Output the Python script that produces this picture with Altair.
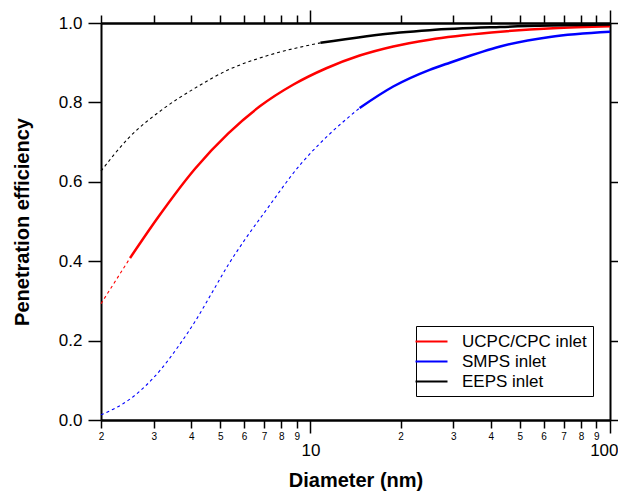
import altair as alt
import pandas as pd

series_names = ["UCPC/CPC inlet", "SMPS inlet", "EEPS inlet"]
series_colors = ["#ff0000", "#0000ff", "#000000"]

# UCPC/CPC inlet (red)
ucpc_dash_d = [2.0, 2.5]
ucpc_dash_p = [0.293, 0.408]
ucpc_solid_d = [2.5, 3.11, 4.12, 5.32, 6.78, 8.78, 11.3, 14.6, 18.9, 25.0, 40.2, 64.6, 100.0]
ucpc_solid_p = [0.408, 0.512, 0.633, 0.722, 0.790, 0.845, 0.886, 0.918, 0.941, 0.958, 0.976, 0.987, 0.992]

# SMPS inlet (blue)
smps_dash_d = [2.0, 2.47, 2.80, 3.19, 3.62, 4.12, 4.68, 5.32, 6.04, 7.06, 9.34, 10.77, 14.6]
smps_dash_p = [0.013, 0.050, 0.084, 0.130, 0.185, 0.248, 0.319, 0.391, 0.454, 0.525, 0.647, 0.697, 0.786]
smps_solid_d = [14.6, 18.9, 25.0, 29.2, 43.0, 63.0, 100.0]
smps_solid_p = [0.786, 0.840, 0.882, 0.900, 0.941, 0.965, 0.978]

# EEPS inlet (black)
eeps_dash_d = [2.0, 2.47, 3.19, 4.12, 5.32, 7.06, 10.8]
eeps_dash_p = [0.627, 0.710, 0.781, 0.836, 0.882, 0.916, 0.950]
eeps_solid_d = [10.8, 19.9, 25.0, 43.0, 100.0]
eeps_solid_p = [0.950, 0.976, 0.982, 0.990, 0.996]

minor_ticks = [2, 3, 4, 5, 6, 7, 8, 9, 20, 30, 40, 50, 60, 70, 80, 90]
major_ticks = [10, 100]
y_ticks = [0.0, 0.2, 0.4, 0.6, 0.8, 1.0]

rows = []
for name, parts in [
    (series_names[0], [("dash", ucpc_dash_d, ucpc_dash_p), ("solid", ucpc_solid_d, ucpc_solid_p)]),
    (series_names[1], [("dash", smps_dash_d, smps_dash_p), ("solid", smps_solid_d, smps_solid_p)]),
    (series_names[2], [("dash", eeps_dash_d, eeps_dash_p), ("solid", eeps_solid_d, eeps_solid_p)]),
]:
    for part, ds, ps in parts:
        for i, (d, p) in enumerate(zip(ds, ps)):
            rows.append({"d": d, "p": p, "series": name, "part": part, "i": i})
df = pd.DataFrame(rows)

FONT = "Liberation Sans"
common = dict(domainColor="black", domainWidth=2, tickColor="black", tickWidth=1.5,
              grid=False, labelFont=FONT, labelColor="black", titleFont=FONT,
              titleColor="black", labelOverlap=False, labelBound=False)

xscale = alt.Scale(type="log", domain=[2, 100], nice=False)
yscale = alt.Scale(domain=[0, 1], nice=False, zero=False)
cscale = alt.Scale(domain=series_names, range=series_colors)

x_bottom_major = alt.Axis(orient="bottom", values=major_ticks, tickSize=13, labelFontSize=17,
                          labelPadding=9, format="d", labelFlush=True, labelFlushOffset=8,
                          title="Diameter (nm)", titleFontSize=20,
                          titleFontWeight="bold", titleX=254.5, titleY=66,
                          titleBaseline="alphabetic", titleAlign="center", **common)
x_bottom_minor = alt.Axis(orient="bottom", values=minor_ticks, tickSize=8, labelFontSize=10,
                          labelPadding=3, labelFlush=False,
                          labelExpr="'' + (datum.value < 10 ? datum.value : datum.value / 10)",
                          title=None, **common)
x_top_major = alt.Axis(orient="top", values=major_ticks, tickSize=13, labels=False, title=None, **common)
x_top_minor = alt.Axis(orient="top", values=minor_ticks, tickSize=8, labels=False, title=None, **common)

y_left = alt.Axis(orient="left", values=y_ticks, format=".1f", tickSize=13, labelFontSize=17,
                  labelPadding=6, labelFlush=False, title="Penetration efficiency", titleFontSize=20,
                  titleFontWeight="bold", titleAngle=270, titleX=-72.5, titleY=198.5,
                  titleBaseline="alphabetic", titleAlign="center", **common)
y_right = alt.Axis(orient="right", values=y_ticks, tickSize=13, labels=False, title=None, **common)

legend = alt.Legend(title=None, orient="none", legendX=315, legendY=303, direction="vertical",
                    symbolType="M-2,0H2", symbolSize=256, symbolStrokeWidth=2.2,
                    labelFont=FONT, labelFontSize=17, labelColor="black",
                    strokeColor="black", fillColor="white", padding=6, rowPadding=2,
                    labelOffset=21)

base = alt.Chart(df)

dashed = base.transform_filter(alt.datum.part == "dash").mark_line(
    strokeWidth=1.1, strokeDash=[3, 3], interpolate="monotone"
).encode(
    x=alt.X("d:Q", scale=xscale, axis=None),
    y=alt.Y("p:Q", scale=yscale, axis=None),
    color=alt.Color("series:N", scale=cscale, legend=None),
    order="i:Q",
)

solid = base.transform_filter(alt.datum.part == "solid").mark_line(
    strokeWidth=2.5, interpolate="monotone"
).encode(
    x=alt.X("d:Q", scale=xscale, axis=x_bottom_major),
    y=alt.Y("p:Q", scale=yscale, axis=y_left),
    color=alt.Color("series:N", scale=cscale, legend=legend, sort=series_names),
    order="i:Q",
)

ghost1 = base.mark_point(opacity=0, size=1).encode(
    x=alt.X("d:Q", scale=xscale, axis=x_bottom_minor),
    y=alt.Y("p:Q", scale=yscale, axis=y_right),
)
ghost2 = base.mark_point(opacity=0, size=1).encode(
    x=alt.X("d:Q", scale=xscale, axis=x_top_major),
    y=alt.Y("p:Q", scale=yscale, axis=None),
)
ghost3 = base.mark_point(opacity=0, size=1).encode(
    x=alt.X("d:Q", scale=xscale, axis=x_top_minor),
    y=alt.Y("p:Q", scale=yscale, axis=None),
)

chart = alt.layer(dashed, solid, ghost1, ghost2, ghost3).resolve_axis(
    x="independent", y="independent"
).resolve_scale(
    color="independent"
).resolve_legend(
    color="independent"
).properties(
    width=509, height=397,
    autosize=alt.AutoSizeParams(type="none"),
    padding={"left": 93, "top": 15, "right": 8, "bottom": 80},
    background="white",
).configure_view(stroke=None)

chart.save("out.html", embed_options={"renderer": "svg", "actions": False})
